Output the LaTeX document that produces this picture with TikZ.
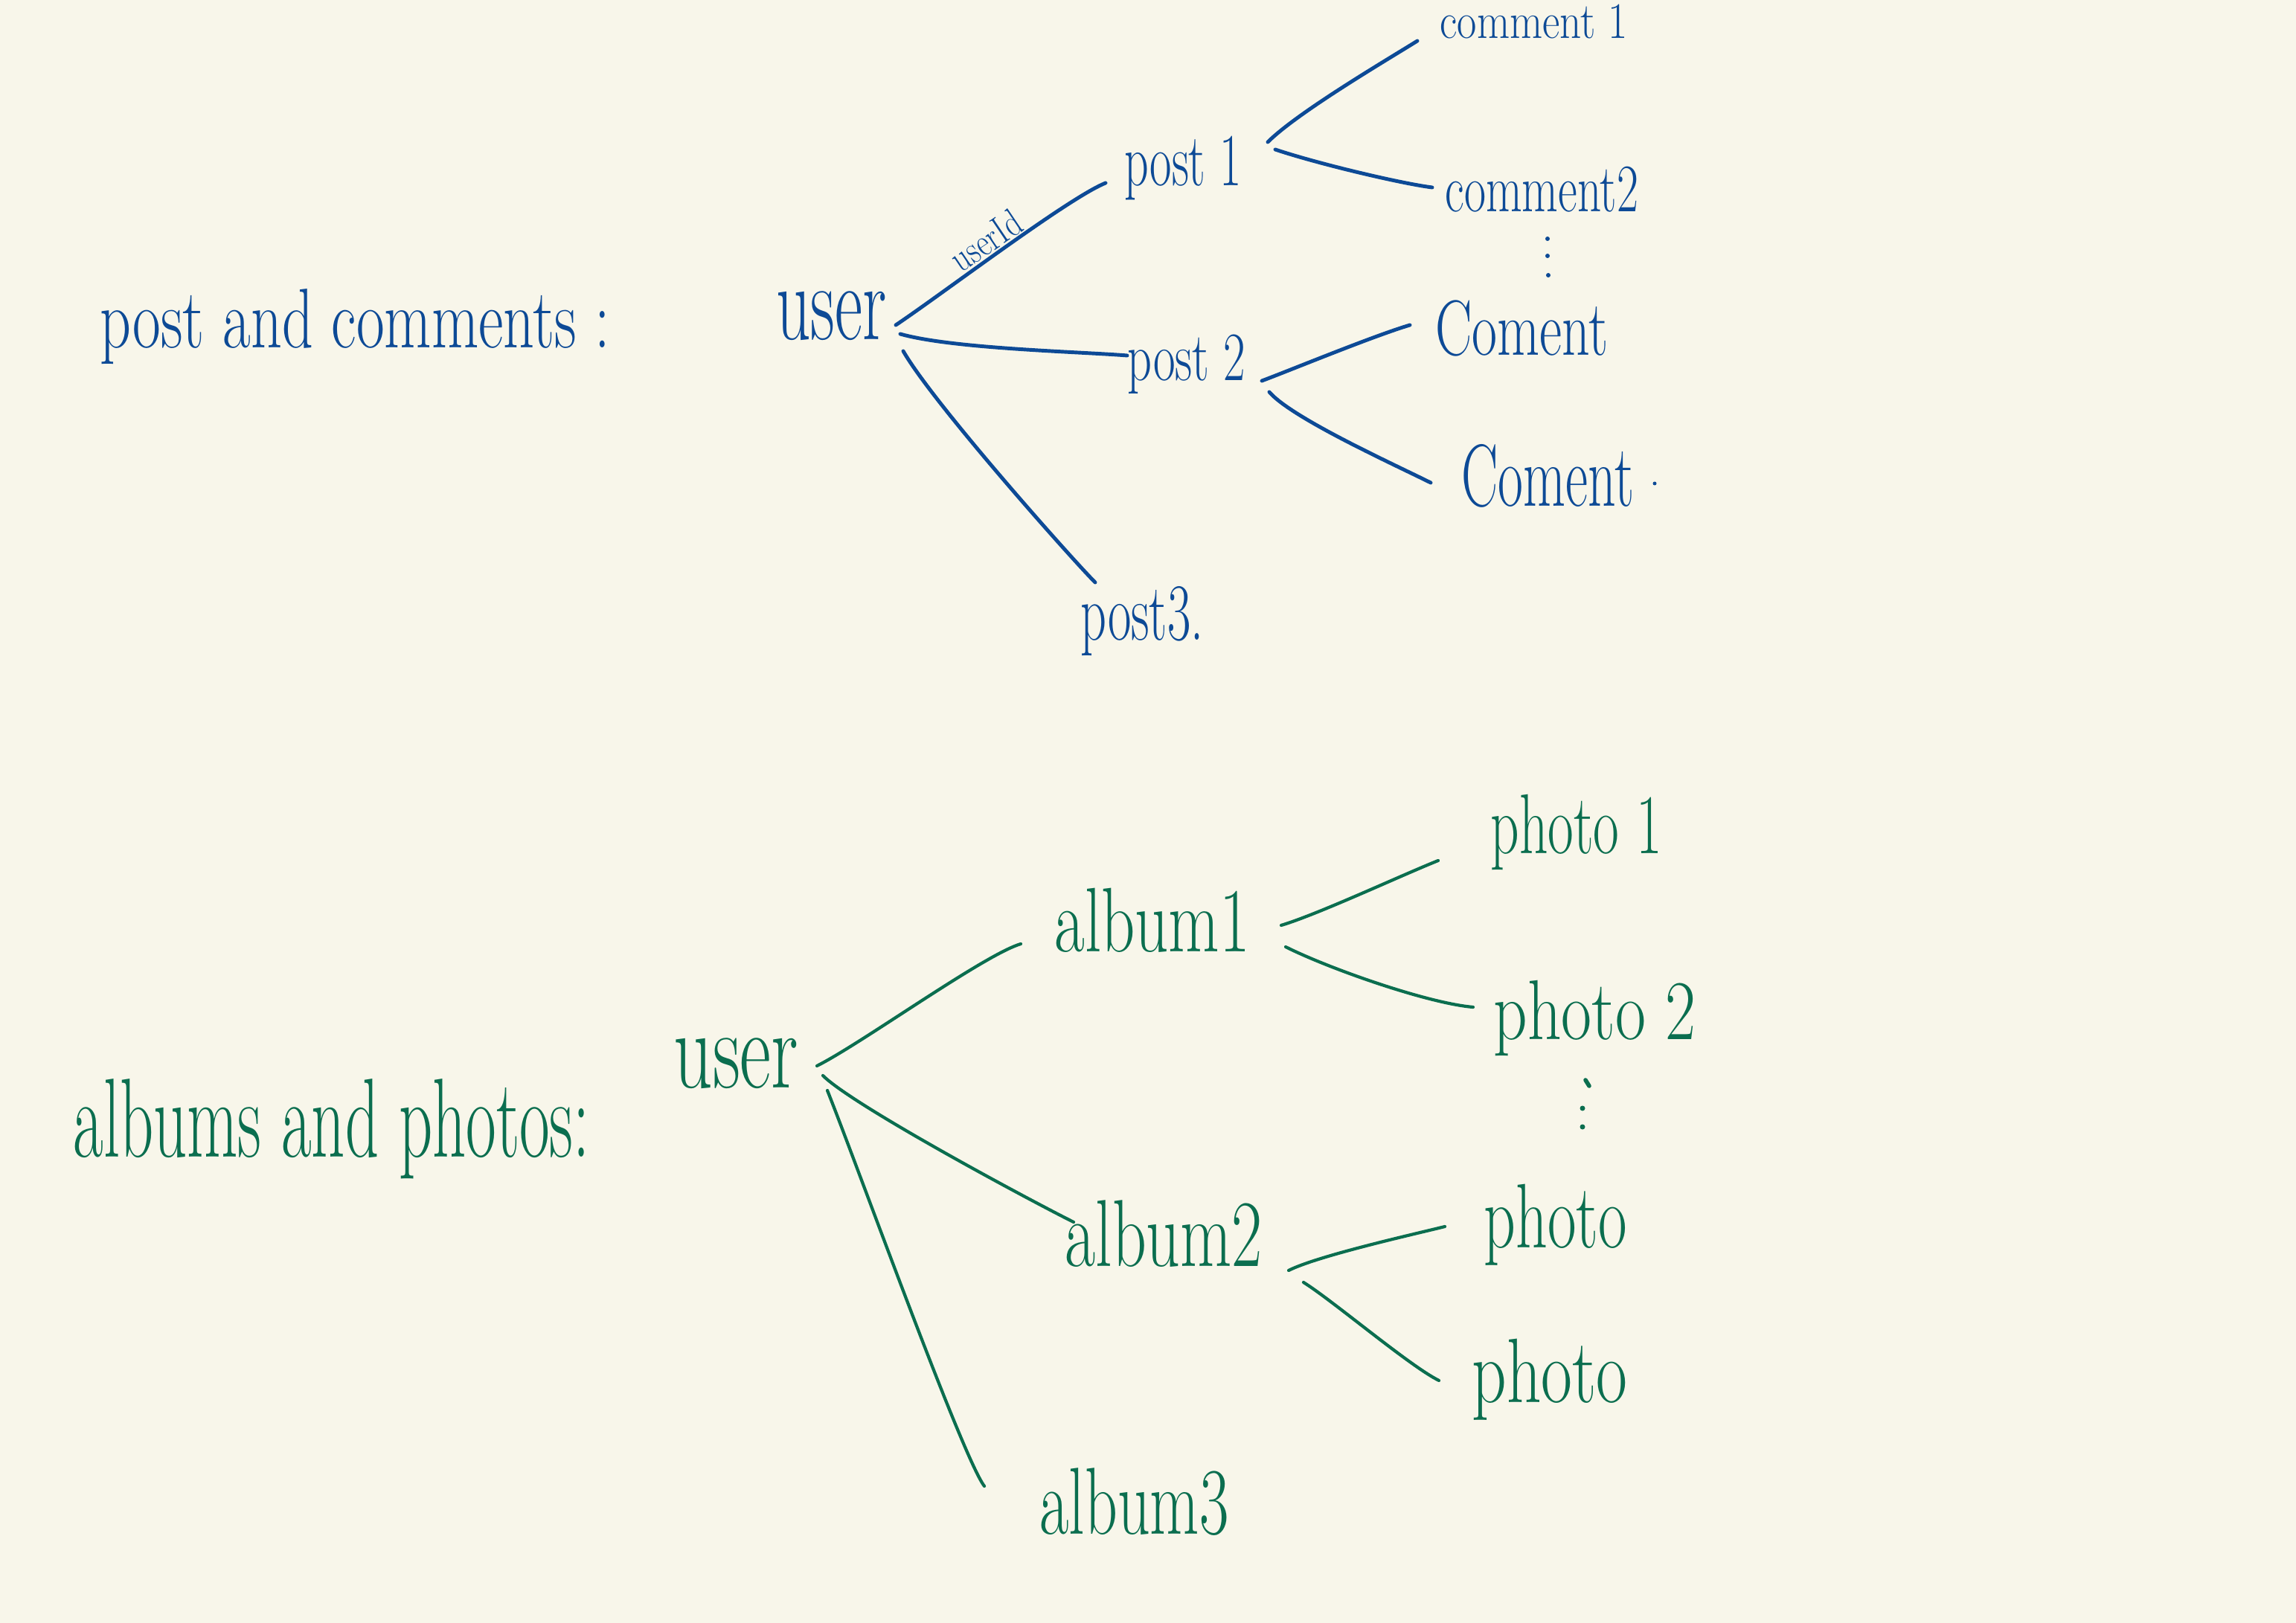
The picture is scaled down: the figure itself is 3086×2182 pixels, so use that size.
\documentclass[tikz,border=0pt]{standalone}
\usepackage{fontspec}
\definecolor{bgc}{HTML}{F8F6EA}
\definecolor{cblue}{HTML}{0D4A96}
\definecolor{cgreen}{HTML}{0B6E4F}
\begin{document}
\begin{tikzpicture}[x=0.01cm,y=-0.01cm,
  bt/.style 2 args={text=cblue, inner sep=0pt, anchor=base west, font=\fontsize{#1}{#1}\selectfont, xscale=#2},
  gt/.style 2 args={text=cgreen, inner sep=0pt, anchor=base west, font=\fontsize{#1}{#1}\selectfont, xscale=#2},
  bl/.style={draw=cblue, line width=1.4pt, line cap=round},
  gl/.style={draw=cgreen, line width=1.2pt, line cap=round}]
\fill[bgc] (0,0) rectangle (3086,2182);
\useasboundingbox (0,0) rectangle (3086,2182);

% ---------- posts and comments (blue) ----------
\node[bt={32.4}{0.72}] (lab1) at (134,468) {post and comments :};
\node[bt={41.7}{0.62}] (user1) at (1043,457) {user};
\node[bt={28.6}{0.635}] (post1) at (1511,250) {post 1};
\node[bt={26.5}{0.69}] (post2) at (1515,512) {post 2};
\node[bt={31}{0.626}] (post3) at (1452,860) {post3.};
\node[bt={19.6}{0.83}] (com1) at (1935,52) {comment 1};
\node[bt={26}{0.69}] (com2) at (1942,285) {comment2};
\node[bt={30}{0.70}] (com3) at (1929,478) {Coment};
\node[bt={33.8}{0.62}] (com4) at (1964,681) {Coment};
\fill[cblue] (2224,650) circle (2.5);
\fill[cblue] (2080,321) circle (3) (2080,344) circle (3) (2081,370) circle (3);
\node[text=cblue, inner sep=0pt, anchor=base, font=\fontsize{15}{15}\selectfont, rotate=34, xscale=0.8] (uid) at (1335,338) {userId};

\coordinate (a1) at (1204,437); \coordinate (b1) at (1486,246);
\coordinate (a2) at (1210,449); \coordinate (b2) at (1515,478);
\coordinate (a3) at (1214,472); \coordinate (b3) at (1472,783);
\coordinate (a4) at (1704,191); \coordinate (b4) at (1905,55);
\coordinate (a5) at (1714,201); \coordinate (b5) at (1925,252);
\coordinate (a6) at (1696,512); \coordinate (b6) at (1895,437);
\coordinate (a7) at (1706,527); \coordinate (b7) at (1923,649);

\draw[bl] (a1) .. controls +(60,-40) and +(-50,20) .. (b1);
\draw[bl] (a2) .. controls +(70,20) and +(-60,-5) .. (b2);
\draw[bl] (a3) .. controls +(40,70) and +(-30,-30) .. (b3);
\draw[bl] (a4) .. controls +(40,-40) and +(-40,25) .. (b4);
\draw[bl] (a5) .. controls +(60,20) and +(-40,-5) .. (b5);
\draw[bl] (a6) .. controls +(40,-15) and +(-50,15) .. (b6);
\draw[bl] (a7) .. controls +(30,35) and +(-50,-25) .. (b7);

% ---------- albums and photos (green) ----------
\node[gt={43}{0.585}] (lab2) at (98,1555) {albums and photos:};
\node[gt={43}{0.68}] (user2) at (905,1462) {user};
\node[gt={35}{0.72}] (alb1) at (1417,1279) {album1};
\node[gt={36.4}{0.70}] (alb2) at (1431,1702) {album2};
\node[gt={36.4}{0.67}] (alb3) at (1397,2062) {album3};
\node[gt={32.5}{0.66}] (ph1) at (2003,1147) {photo 1};
\node[gt={32.5}{0.78}] (ph2) at (2007,1397) {photo 2};
\node[gt={35}{0.68}] (ph3) at (1994,1677) {photo};
\node[gt={35}{0.74}] (ph4) at (1978,1885) {photo};
\draw[gl, line width=1.6pt] (2131,1452) -- (2136,1460);
\fill[cgreen] (2127,1490) circle (3.5) (2127,1515) circle (3.5);

\coordinate (c1) at (1098,1433); \coordinate (d1) at (1372,1269);
\coordinate (c2) at (1106,1446); \coordinate (d2) at (1443,1643);
\coordinate (c3) at (1112,1466); \coordinate (d3) at (1323,1998);
\coordinate (c4) at (1722,1244); \coordinate (d4) at (1933,1157);
\coordinate (c5) at (1728,1273); \coordinate (d5) at (1980,1354);
\coordinate (c6) at (1732,1708); \coordinate (d6) at (1942,1649);
\coordinate (c7) at (1752,1724); \coordinate (d7) at (1934,1856);

\draw[gl] (c1) .. controls +(60,-30) and +(-50,15) .. (d1);
\draw[gl] (c2) .. controls +(40,40) and +(-60,-30) .. (d2);
\draw[gl] (c3) .. controls +(40,100) and +(-30,-40) .. (d3);
\draw[gl] (c4) .. controls +(50,-15) and +(-50,20) .. (d4);
\draw[gl] (c5) .. controls +(60,30) and +(-60,-5) .. (d5);
\draw[gl] (c6) .. controls +(40,-20) and +(-40,10) .. (d6);
\draw[gl] (c7) .. controls +(40,25) and +(-40,-20) .. (d7);
\end{tikzpicture}
\end{document}
